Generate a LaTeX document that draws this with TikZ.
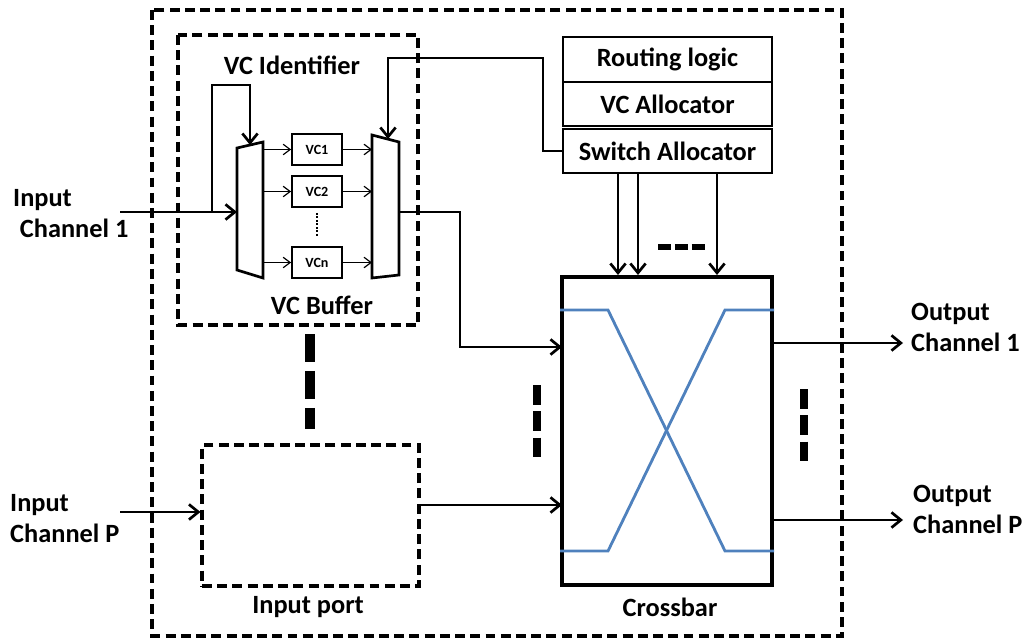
\documentclass[tikz,border=0pt]{standalone}
\usepackage{fontspec}
\setmainfont{Carlito}
\usetikzlibrary{arrows.meta}
\definecolor{xblue}{RGB}{79,129,189}

\begin{document}
\begin{tikzpicture}[x=0.03cm,y=-0.03cm,
    font=\fontsize{22.5}{26.5}\selectfont\bfseries,
    frame/.style={line width=2.6pt,dash pattern=on 8.5pt off 4.5pt},
    blk/.style={draw,line width=1.8pt,minimum width=6.27cm,minimum height=1.32cm,inner sep=0pt},
    vcbox/.style={draw,line width=1.5pt,minimum width=1.5cm,minimum height=0.93cm,inner sep=0pt,
      font=\fontsize{12}{14}\selectfont\bfseries},
    lab/.style={inner sep=0pt,align=left,anchor=west},
    wire/.style={line width=2.3pt,-{Straight Barb[length=8pt,width=13pt,line width=2.3pt]}},
    thinwire/.style={line width=1pt,-{Straight Barb[length=6pt,width=9pt]}},
    xline/.style={draw=xblue,line width=2.4pt}]
  \useasboundingbox (0,0) rectangle (1027,641);

  % router and VC buffer frames
  \draw[frame] (152,10) rectangle (842,636);
  \draw[frame] (178,35) rectangle (418,325);
  \node[draw,frame,minimum width=6.51cm,minimum height=4.23cm] (inport) at (310.5,515.5) {};

  % allocators and crossbar
  \node[blk,minimum height=1.35cm] (route) at (667.5,59.5) {Routing logic};
  \node[blk] (vcalloc) at (667.5,104) {VC Allocator};
  \node[blk] (swalloc) at (667.5,151) {Switch Allocator};
  \node[draw,line width=3.4pt,minimum width=6.3cm,minimum height=9.24cm] (xbar) at (667,431) {};

  % labels
  \node (vcid) at (292,65) {VC Identifier};
  \node (vcbuf) at (322,305) {VC Buffer};
  \node (iplab) at (308,607) {Input port};
  \node (xblab) at (670,607) {Crossbar};
  \node[lab] (in1lab) at (13,214) {Input\\\hspace*{0.2cm}Channel 1};
  \node[lab] (inPlab) at (10,519) {Input\\Channel P};
  \node[lab] (out1lab) at (911,327.5) {Output\\Channel 1};
  \node[lab] (outPlab) at (913,509) {Output\\Channel P};

  % muxes
  \coordinate (m1a) at (237,148); \coordinate (m1b) at (263,142);
  \coordinate (m1c) at (263,278); \coordinate (m1d) at (237,270);
  \coordinate (m2a) at (372,135); \coordinate (m2b) at (399,142);
  \coordinate (m2c) at (399,275); \coordinate (m2d) at (372,278);
  \draw[line width=2.3pt] (m1a) -- (m1b) -- (m1c) -- (m1d) -- cycle;
  \draw[line width=2.3pt] (m2a) -- (m2b) -- (m2c) -- (m2d) -- cycle;
  \coordinate (m1top) at (250,145);
  \coordinate (m2top) at (388,139);
  \coordinate (m2out) at (399,212);

  % virtual channels
  \node[vcbox] (vc1) at (317,149.5) {VC1};
  \node[vcbox] (vc2) at (317,191.5) {VC2};
  \node[vcbox] (vcn) at (317,262.5) {VCn};
  \draw[line width=1.8pt,dash pattern=on 1.6pt off 1.4pt]
    ([yshift=-0.15cm]vc2.south) -- ([yshift=0.27cm]vcn.north);
  \foreach \v in {vc1,vc2,vcn}{
    \draw[thinwire] (m1b |- \v.west) -- (\v.west);
    \draw[thinwire] (\v.east) -- (m2a |- \v.east);
  }

  % input side
  \coordinate (in1) at (120,212);
  \coordinate (tap) at (212,212);
  \draw[wire] (in1) -- (m1a |- in1);
  \draw[wire] (tap) -- (212,85) -| (m1top);
  \draw[wire] (swalloc.west) -| (543,58) -| (m2top);
  \coordinate (xin1) at (562,347);
  \coordinate (xin2) at (562,505);
  \draw[wire] (m2out) -| (460,347) -- (xin1);
  \coordinate (inP) at (120,512);
  \draw[wire] (inP) -- (inport.west |- inP);
  \draw[wire] (inport.east |- xin2) -- (xin2);

  % switch allocator to crossbar
  \foreach \x in {618,638,717}
    \draw[wire] (swalloc.south -| \x,0) -- (xbar.north -| \x,0);
  \draw[line width=4.5pt,dash pattern=on 11pt off 3.4pt] (658,247) -- (706,247);

  % crossbar paths
  \draw[xline] (xbar.west |- 0,310) -- (608,310) -- (725,551) -- (xbar.east |- 0,551);
  \draw[xline] (xbar.west |- 0,551) -- (608,551) -- (725,310) -- (xbar.east |- 0,310);

  % outputs
  \coordinate (out1) at (903,343);
  \coordinate (outP) at (903,520);
  \draw[wire] (xbar.east |- out1) -- (out1);
  \draw[wire] (xbar.east |- outP) -- (outP);

  % more ports
  \draw[line width=8.5pt,dash pattern=on 24pt off 7.5pt] (310,334) -- (310,429);
  \draw[line width=7pt,dash pattern=on 17pt off 5.5pt] (537,385) -- (537,457);
  \draw[line width=7pt,dash pattern=on 17pt off 5.5pt] (804,389) -- (804,461);
\end{tikzpicture}
\end{document}
